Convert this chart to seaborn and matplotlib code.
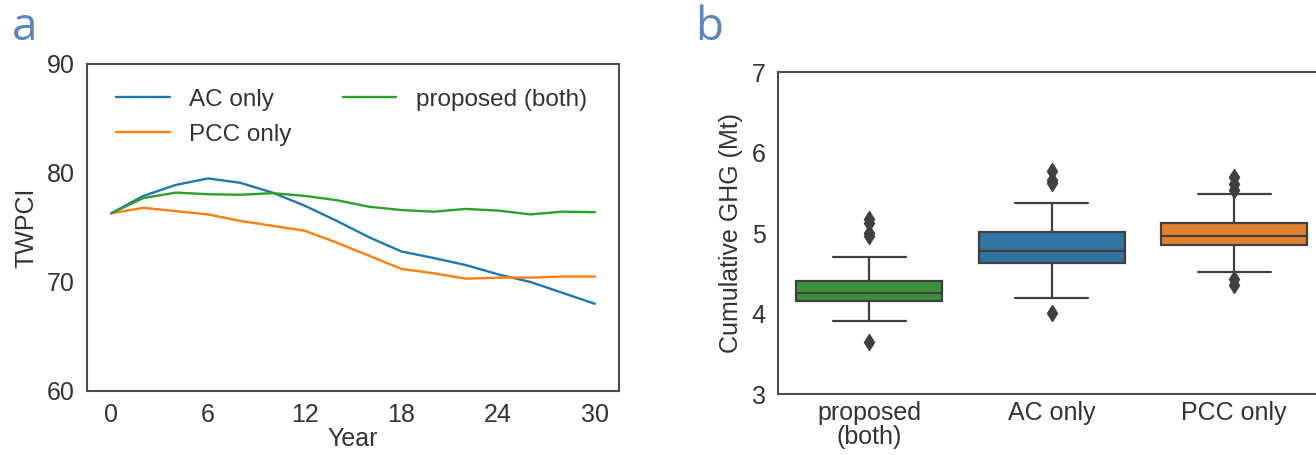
import seaborn as sns
import matplotlib.pyplot as plt
import pandas as pd

# panel a: TWPCI over time
years = [0, 2, 4, 6, 8, 10, 12, 14, 16, 18, 20, 22, 24, 26, 28, 30]
ac_only = [76.3, 77.9, 78.9, 79.5, 79.1, 78.2, 77.0, 75.6, 74.1, 72.8, 72.2, 71.55, 70.7, 70.0, 69.0, 68.0]
pcc_only = [76.3, 76.8, 76.5, 76.2, 75.6, 75.15, 74.7, 73.6, 72.4, 71.2, 70.8, 70.3, 70.4, 70.4, 70.5, 70.5]
proposed = [76.3, 77.7, 78.2, 78.05, 78.0, 78.15, 77.9, 77.5, 76.9, 76.6, 76.45, 76.7, 76.55, 76.2, 76.45, 76.4]

# panel b: cumulative GHG samples
ghg_proposed = [3.65, 3.91, 4.03, 4.09, 4.12, 4.15, 4.17, 4.19, 4.21, 4.23, 4.25,
                4.28, 4.31, 4.34, 4.37, 4.40, 4.70, 4.96, 5.00, 5.12, 5.17]
ghg_ac = [4.01, 4.19, 4.35, 4.45, 4.55, 4.63, 4.68, 4.72, 4.75, 4.77, 4.78,
          4.82, 4.88, 4.93, 4.98, 5.01, 5.20, 5.37, 5.62, 5.66, 5.77]
ghg_pcc = [4.36, 4.43, 4.51, 4.70, 4.80, 4.85, 4.88, 4.90, 4.93, 4.95, 4.96,
           4.99, 5.03, 5.07, 5.10, 5.12, 5.30, 5.49, 5.54, 5.61, 5.69]

scenarios = ["AC only", "PCC only", "proposed (both)"]
box_order = ["proposed\n(both)", "AC only", "PCC only"]
line_colors = {"AC only": "#1f77b4", "PCC only": "#ff7f0e", "proposed (both)": "#2ca02c"}
box_colors = {"proposed\n(both)": "#3a923a", "AC only": "#3274a1", "PCC only": "#e1812c"}

sns.set_style("white")
plt.rcParams["font.family"] = ["Liberation Sans", "DejaVu Sans"]
plt.rcParams["text.color"] = "0.2"
plt.rcParams["axes.labelcolor"] = "0.2"
plt.rcParams["xtick.color"] = "0.2"
plt.rcParams["ytick.color"] = "0.2"

lines = pd.DataFrame({
    "Year": years * 3,
    "TWPCI": ac_only + pcc_only + proposed,
    "scenario": [s for s in scenarios for _ in years],
})
boxes = pd.DataFrame({
    "group": [box_order[0]] * len(ghg_proposed) + [box_order[1]] * len(ghg_ac) + [box_order[2]] * len(ghg_pcc),
    "ghg": ghg_proposed + ghg_ac + ghg_pcc,
})

fig = plt.figure(figsize=(13.16, 4.55), dpi=100)
ax1 = fig.add_axes([0.0661, 0.1407, 0.4043, 0.7187])
ax2 = fig.add_axes([0.5912, 0.134, 0.416, 0.7077])

sns.lineplot(data=lines, x="Year", y="TWPCI", hue="scenario", hue_order=scenarios,
             palette=line_colors, linewidth=1.7, ax=ax1)
ax1.set_xlim(-1.5, 31.5)
ax1.set_ylim(60, 90)
ax1.set_xticks([0, 6, 12, 18, 24, 30])
ax1.set_yticks([60, 70, 80, 90])
ax1.set_xlabel("Year", fontsize=18, labelpad=0)
ax1.set_ylabel("TWPCI", fontsize=18, labelpad=6)
ax1.legend(ncol=2, frameon=False, loc="upper left", bbox_to_anchor=(0.055, 0.925),
           borderaxespad=0, borderpad=0, fontsize=17.5, handlelength=2.2,
           handletextpad=0.8, columnspacing=2.1, labelspacing=0.55)

sns.boxplot(data=boxes, x="group", y="ghg", hue="group", order=box_order,
            palette=box_colors, saturation=1, width=0.8, linecolor="0.25", linewidth=1.6,
            flierprops=dict(marker="d", markerfacecolor="0.25", markeredgecolor="0.25",
                            markersize=8), legend=False, ax=ax2)
ax2.set_ylim(3, 7)
ax2.set_yticks([3, 4, 5, 6, 7])
ax2.set_xlabel("")
ax2.set_ylabel("Cumulative GHG (Mt)", fontsize=18, labelpad=6)

for ax in (ax1, ax2):
    ax.tick_params(labelsize=18, length=0, pad=9)
    for sp in ax.spines.values():
        sp.set_color("0.3")
        sp.set_linewidth(1.5)
ax2.tick_params(axis="x", pad=5)
for lab in ax2.get_xticklabels():
    lab.set_linespacing(1.0)

fig.text(0.009, 0.912, "a", fontsize=33, color="#5b86c1", family="Open Sans")
fig.text(0.528, 0.912, "b", fontsize=33, color="#5b86c1", family="Open Sans")

fig.savefig("out.png", dpi=100)
